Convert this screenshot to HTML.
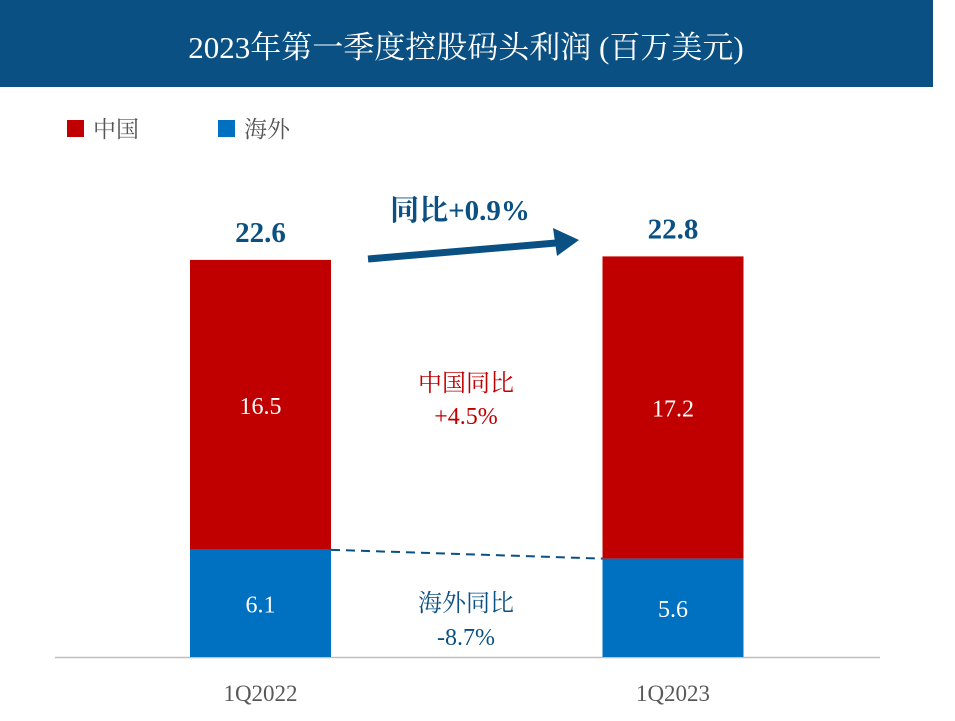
<!DOCTYPE html>
<html><head><meta charset="utf-8"><style>
body{margin:0;background:#fff;}
svg text{font-family:"Liberation Serif","Noto Serif CJK SC","Noto Sans CJK SC",serif;}
</style></head><body>
<svg width="955" height="716" viewBox="0 0 955 716" xmlns="http://www.w3.org/2000/svg">
<rect x="0" y="0" width="933" height="87" fill="#0b5083"/>
<text x="466" y="58" font-size="31" fill="#fff" text-anchor="middle">2023年第一季度控股码头利润 (百万美元)</text>
<rect x="67" y="120" width="17" height="17" fill="#c00000"/>
<text x="93" y="137" font-size="23" fill="#555">中国</text>
<rect x="218" y="120" width="17" height="17" fill="#0070c0"/>
<text x="244" y="137" font-size="23" fill="#555">海外</text>
<line x1="55" y1="657.5" x2="880" y2="657.5" stroke="#bfbfbf" stroke-width="1.5"/>
<g id="bars"></g>
<path d="M368 259 L556 243" stroke="#0b5083" stroke-width="7" fill="none"/>
<polygon points="579,240 553,228 557,256" fill="#0b5083"/>
<text x="460" y="220" font-size="29" font-weight="bold" fill="#0b5083" text-anchor="middle">同比+0.9%</text>
<text x="466" y="391" font-size="24" fill="#c00000" text-anchor="middle">中国同比</text>
<text x="466" y="424" font-size="24" fill="#c00000" text-anchor="middle">+4.5%</text>
<text x="466" y="611" font-size="24" fill="#0b5083" text-anchor="middle">海外同比</text>
<text x="466" y="645" font-size="24" fill="#0b5083" text-anchor="middle">-8.7%</text>
</svg>
<script>
const categories=["1Q2022","1Q2023"];
const overseas=[6.1,5.6];
const china=[16.5,17.2];
const totals=["22.6","22.8"];
const NS="http://www.w3.org/2000/svg";
const g=document.getElementById('bars');
const base=657, scale=17.57, barW=141;
const xc=i=>260.5+i*412.5;
const y=v=>base-v*scale;
function mk(tag,attrs,txt){const e=document.createElementNS(NS,tag);for(const k in attrs)e.setAttribute(k,attrs[k]);if(txt!==undefined)e.textContent=txt;g.appendChild(e);return e;}
categories.forEach((c,i)=>{
 const x=xc(i)-barW/2, o=overseas[i], ch=china[i], t=o+ch;
 let e=mk('rect',{x:x,y:y(o),width:barW,height:o*scale,fill:'#0070c0'});
 
 
 e=mk('rect',{x:x,y:y(t),width:barW,height:ch*scale,fill:'#c00000'});
 
 
 e=mk('text',{x:xc(i),y:(y(o)+base)/2+9,'font-size':24,fill:'#fff','text-anchor':'middle'},o.toFixed(1));
 
 
 e=mk('text',{x:xc(i),y:(y(t)+y(o))/2+9,'font-size':24,fill:'#fff','text-anchor':'middle'},ch.toFixed(1));
 
 
 e=mk('text',{x:xc(i),y:y(t)-18,'font-size':29,'font-weight':'bold',fill:'#0b5083','text-anchor':'middle'},totals[i]);
 
 
 e=mk('text',{x:xc(i),y:701,'font-size':23,fill:'#595959','text-anchor':'middle'},c);
 
 
});
const d=mk('line',{x1:xc(0)+barW/2,y1:y(overseas[0]),x2:xc(1)-barW/2,y2:y(overseas[1]),stroke:'#0b5083','stroke-width':2,'stroke-dasharray':'9,6'});


</script>
</body></html>
